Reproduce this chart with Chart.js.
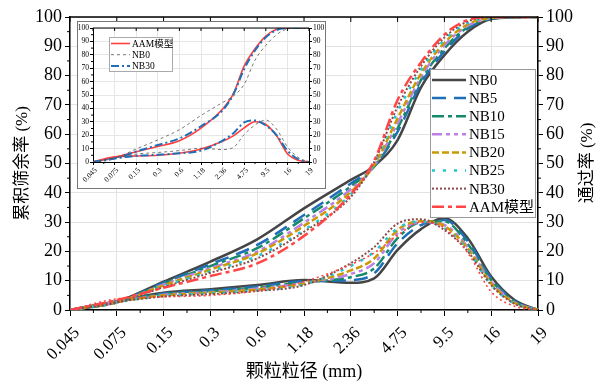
<!DOCTYPE html>
<html>
<head>
<meta charset="utf-8">
<script src="https://cdn.jsdelivr.net/npm/chart.js@4.4.0/dist/chart.umd.min.js"></script>
<style>
  body { margin: 0; background: #fff; }
  #wrap { position: relative; width: 606px; height: 391px; }
  #inset { position: absolute; left: 77px; top: 21px; width: 249px; height: 168px; background: #fff; border: 1px solid #777; box-sizing: border-box; }
  canvas { display: block; }
</style>
</head>
<body>
<div id="wrap">
  <canvas id="main" width="606" height="391"></canvas>
  <div id="inset"><canvas id="ins" width="247" height="166"></canvas></div>
</div>
<script>
// sieve sizes (mm), evenly spaced on the axis
const sizes = ['0.045', '0.075', '0.15', '0.3', '0.6', '1.18', '2.36', '4.75', '9.5', '16', '19'];
// positions (index on the size axis) where the curves were read
const pos = [0, 1, 2, 3, 4, 5, 6, 6.5, 7, 7.5, 8, 8.5, 9, 9.5, 10];

// cumulative curves (%)
const cumNB0  = [0, 2.8, 9.7, 16.5, 24.1, 34.7, 44.4, 49.2, 58.0, 76.0, 87.0, 95.0, 99.3, 99.9, 100];
const cumNB5  = [0, 2.7, 9.3, 15.6, 22.2, 32.4, 43.2, 49.0, 60.9, 77.3, 88.3, 96.0, 99.4, 99.9, 100];
const cumNB10 = [0, 2.7, 9.0, 15.0, 21.1, 31.3, 42.2, 49.0, 62.0, 78.5, 89.3, 96.5, 99.5, 100, 100];
const cumNB15 = [0, 2.6, 8.7, 14.3, 19.9, 29.8, 41.2, 49.3, 63.7, 79.5, 90.3, 97.0, 99.6, 100, 100];
const cumNB20 = [0, 2.6, 8.4, 13.8, 19.3, 28.7, 40.3, 49.5, 65.4, 80.7, 91.2, 97.5, 99.7, 100, 100];
const cumNB25 = [0, 2.5, 8.1, 13.2, 18.4, 27.3, 39.5, 50.0, 67.7, 82.0, 92.2, 98.0, 99.8, 100, 100];
const cumNB30 = [0, 2.5, 7.8, 12.7, 17.6, 26.7, 38.6, 50.5, 69.4, 83.2, 93.0, 98.5, 99.9, 100, 100];
const cumAAM  = [0, 3.4, 7.6, 11.6, 15.9, 25.3, 39.5, 51.0, 71.7, 84.5, 94.0, 99.0, 100, 100, 100];

// distribution curves (%)
const disNB0  = [0, 3.0, 5.9, 7.1, 8.5, 10.2, 9.3, 10.8, 20.5, 27.6, 31.3, 24.5, 11.4, 3.4, 0];
const disNB5  = [0, 2.9, 5.6, 6.7, 8.0, 9.8, 10.2, 12.5, 22.8, 29.0, 30.7, 23.5, 10.8, 3.0, 0];
const disNB10 = [0, 2.9, 5.4, 6.4, 7.6, 9.5, 11.2, 14.2, 24.5, 30.0, 30.2, 22.5, 10.2, 2.8, 0];
const disNB15 = [0, 2.8, 5.2, 6.1, 7.3, 9.2, 12.3, 16.0, 26.2, 30.0, 29.0, 21.5, 9.7, 2.6, 0];
const disNB20 = [0, 2.8, 5.0, 5.9, 7.0, 9.0, 13.5, 17.6, 27.3, 30.3, 28.7, 21.0, 9.1, 2.4, 0];
const disNB25 = [0, 2.7, 4.8, 5.6, 6.7, 8.7, 15.0, 19.9, 27.9, 30.2, 27.9, 20.5, 8.5, 2.2, 0];
const disNB30 = [0, 2.7, 4.6, 5.4, 6.5, 8.5, 16.0, 21.5, 29.5, 31.0, 27.3, 20.0, 8.5, 2.1, 0];
const disAAM  = [0, 3.8, 4.5, 5.0, 6.5, 9.7, 15.5, 19.5, 25.5, 30.0, 28.0, 19.5, 6.2, 1.3, 0];

const names = ['NB0', 'NB5', 'NB10', 'NB15', 'NB20', 'NB25', 'NB30', 'AAM模型'];
const cum = [cumNB0, cumNB5, cumNB10, cumNB15, cumNB20, cumNB25, cumNB30, cumAAM];
const dis = [disNB0, disNB5, disNB10, disNB15, disNB20, disNB25, disNB30, disAAM];

const styles = [
  { color: '#454545', dash: [], width: 2.5 },
  { color: '#1f6fb8', dash: [14, 8], width: 2.5 },
  { color: '#16896b', dash: [12, 4, 4, 4], width: 2.5 },
  { color: '#bb80e6', dash: [10, 4, 4, 4, 4, 4], width: 2.5 },
  { color: '#c99a06', dash: [7, 3], width: 2.5 },
  { color: '#1ec8cf', dash: [3, 8], width: 2.5 },
  { color: '#8c4a4a', dash: [2, 2], width: 2 },
  { color: '#ff4545', dash: [12, 4, 4, 4], width: 2.5 }
];

const serif = '"Liberation Serif", "Noto Sans CJK SC", serif';
const pts = arr => pos.map((p, i) => ({ x: p, y: arr[i] }));

function line(label, data, st) {
  return {
    label: label, data: pts(data),
    borderColor: st.color, borderDash: st.dash, borderWidth: st.width,
    pointRadius: 0, fill: false, cubicInterpolationMode: 'monotone'
  };
}

let mainSets = [];
for (let i = names.length - 1; i >= 0; i--) {
  mainSets.push(line(names[i], cum[i], styles[i]));
  let ds = styles[i];
  if (i == 7) ds = { color: '#ff4545', dash: [2, 3], width: 1.6 };
  mainSets.push(line(names[i], dis[i], ds));
}

// border on top + minor ticks
function framePlugin(major, minor, minorY) {
  return {
    id: 'frame',
    afterDraw(c) {
      const { ctx, chartArea: a, scales: { x, y } } = c;
      ctx.save();
      ctx.strokeStyle = '#000';
      ctx.lineWidth = major.bw;
      ctx.beginPath(); ctx.moveTo(a.left, a.top); ctx.lineTo(a.right, a.top); ctx.stroke();
      ctx.lineWidth = 1;
      ctx.beginPath();
      for (let i = 0; i <= 10; i++) {
        const px = x.getPixelForValue(i);
        ctx.moveTo(px, a.top); ctx.lineTo(px, a.top + major.len);
      }
      for (let i = 0.5; i < 10; i++) {
        const px = x.getPixelForValue(i);
        ctx.moveTo(px, a.bottom); ctx.lineTo(px, a.bottom + minor);
      }
      for (let v = 5; v < 100; v += 10) {
        const py = y.getPixelForValue(v);
        ctx.moveTo(a.left, py); ctx.lineTo(a.left - minorY, py);
        ctx.moveTo(a.right, py); ctx.lineTo(a.right + minorY, py);
      }
      ctx.stroke();
      ctx.restore();
    }
  };
}

function legendPlugin(entries, box) {
  return {
    id: 'legendBox',
    afterDraw(c) {
      const ctx = c.ctx;
      ctx.save();
      ctx.fillStyle = '#fff';
      ctx.fillRect(box.x, box.y, box.w, box.h);
      ctx.strokeStyle = box.border;
      ctx.lineWidth = 1;
      ctx.strokeRect(box.x + 0.5, box.y + 0.5, box.w, box.h);
      entries.forEach((e, i) => {
        const cy = box.y0 + i * box.step;
        ctx.strokeStyle = e.color;
        ctx.lineWidth = e.width;
        ctx.setLineDash(e.dash);
        ctx.beginPath(); ctx.moveTo(box.lx0, cy); ctx.lineTo(box.lx1, cy); ctx.stroke();
        ctx.setLineDash([]);
        ctx.fillStyle = '#000';
        ctx.font = box.font;
        ctx.textBaseline = 'middle';
        ctx.fillText(e.label, box.tx, cy + 1);
      });
      ctx.restore();
    }
  };
}

const rightTitle = {
  id: 'rightTitle',
  afterDraw(c) {
    const ctx = c.ctx;
    ctx.save();
    ctx.translate(588, 163);
    ctx.rotate(-Math.PI / 2);
    ctx.font = '17px ' + serif;
    ctx.fillStyle = '#000';
    ctx.textAlign = 'center';
    ctx.textBaseline = 'middle';
    ctx.fillText('通过率 (%)', 0, 0);
    ctx.restore();
  }
};

const mainEntries = names.map((n, i) => ({ label: n, color: styles[i].color, dash: styles[i].dash, width: styles[i].width }));

new Chart(document.getElementById('main'), {
  type: 'line',
  data: { datasets: mainSets },
  options: {
    responsive: false,
    animation: false,
    layout: { padding: { top: 17, left: 0, right: 0, bottom: 0 } },
    plugins: { legend: { display: false }, tooltip: { enabled: false } },
    scales: {
      x: {
        type: 'linear', min: 0, max: 10,
        ticks: {
          stepSize: 1, autoSkip: false, maxRotation: 45, minRotation: 45,
          color: '#000', font: { family: serif, size: 17 }, padding: 7, labelOffset: 7,
          callback: v => sizes[Math.round(v)]
        },
        grid: { color: '#e3e3e3', tickColor: '#000', tickLength: 6 },
        border: { color: '#000', width: 1.5 },
        title: { display: true, text: '颗粒粒径 (mm)', color: '#000', font: { family: serif, size: 18 }, padding: { top: 0, bottom: 8 } },
        afterFit: s => { s.height = 81; }
      },
      y: {
        position: 'left', min: 0, max: 100,
        ticks: { stepSize: 10, color: '#000', font: { family: serif, size: 18 }, padding: 3 },
        grid: { color: '#e3e3e3', tickColor: '#000', tickLength: 5 },
        border: { color: '#000', width: 1.5 },
        title: { display: true, text: '累积筛余率 (%)', color: '#000', font: { family: serif, size: 17 }, padding: { top: 12, bottom: 0 } },
        afterFit: s => { s.width = 70; }
      },
      y2: {
        position: 'right', min: 0, max: 100,
        ticks: { stepSize: 10, color: '#000', font: { family: serif, size: 18 }, padding: 3 },
        grid: { drawOnChartArea: false, tickColor: '#000', tickLength: 5 },
        border: { color: '#000', width: 1.5 },
        afterFit: s => { s.width = 68; }
      }
    }
  },
  plugins: [
    framePlugin({ bw: 1.5, len: 5 }, 3, 3),
    legendPlugin(mainEntries, { x: 430, y: 69, w: 105, h: 148, border: '#999', y0: 80, step: 18.1, lx0: 432, lx1: 466, tx: 469, font: '15px ' + serif }),
    rightTitle
  ]
});

// inset: AAM model vs NB0 and NB30
const insStyles = {
  aam: { color: '#ff4040', dash: [], width: 1.6 },
  nb0: { color: '#555555', dash: [3, 3], width: 0.8 },
  nb30: { color: '#1f6fb8', dash: [8, 3, 2, 3], width: 2 }
};
const insSets = [
  line('NB0', cumNB0, insStyles.nb0), line('NB0', disNB0, insStyles.nb0),
  line('NB30', cumNB30, insStyles.nb30), line('NB30', disNB30, insStyles.nb30),
  line('AAM模型', cumAAM, insStyles.aam), line('AAM模型', disAAM, insStyles.aam)
];
const insEntries = [
  { label: 'AAM模型', ...insStyles.aam },
  { label: 'NB0', ...insStyles.nb0 },
  { label: 'NB30', ...insStyles.nb30 }
];
const smallFont = { family: serif, size: 7.5 };

new Chart(document.getElementById('ins'), {
  type: 'line',
  data: { datasets: insSets },
  options: {
    responsive: false,
    animation: false,
    layout: { padding: { top: 6, left: 0, right: 0, bottom: 0 } },
    plugins: { legend: { display: false }, tooltip: { enabled: false } },
    scales: {
      x: {
        type: 'linear', min: 0, max: 10,
        ticks: {
          stepSize: 1, autoSkip: false, maxRotation: 45, minRotation: 45,
          color: '#000', font: smallFont, padding: 1, labelOffset: 3,
          callback: v => sizes[Math.round(v)]
        },
        grid: { color: '#e6e6e6', tickColor: '#000', tickLength: 3 },
        border: { color: '#000', width: 1 },
        afterFit: s => { s.height = 26; }
      },
      y: {
        position: 'left', min: 0, max: 100,
        ticks: { stepSize: 10, color: '#000', font: smallFont, padding: 1 },
        grid: { color: '#e6e6e6', tickColor: '#000', tickLength: 3 },
        border: { color: '#000', width: 1 },
        afterFit: s => { s.width = 15; }
      },
      y2: {
        position: 'right', min: 0, max: 100,
        ticks: { stepSize: 10, color: '#000', font: smallFont, padding: 1 },
        grid: { drawOnChartArea: false, tickColor: '#000', tickLength: 3 },
        border: { color: '#000', width: 1 },
        afterFit: s => { s.width = 16; }
      }
    }
  },
  plugins: [
    framePlugin({ bw: 1, len: 3 }, 2, 2),
    legendPlugin(insEntries, { x: 31, y: 15, w: 63, h: 34, border: '#aaa', y0: 21.5, step: 11.2, lx0: 33, lx1: 52, tx: 54, font: '9.5px ' + serif })
  ]
});
</script>
</body>
</html>
